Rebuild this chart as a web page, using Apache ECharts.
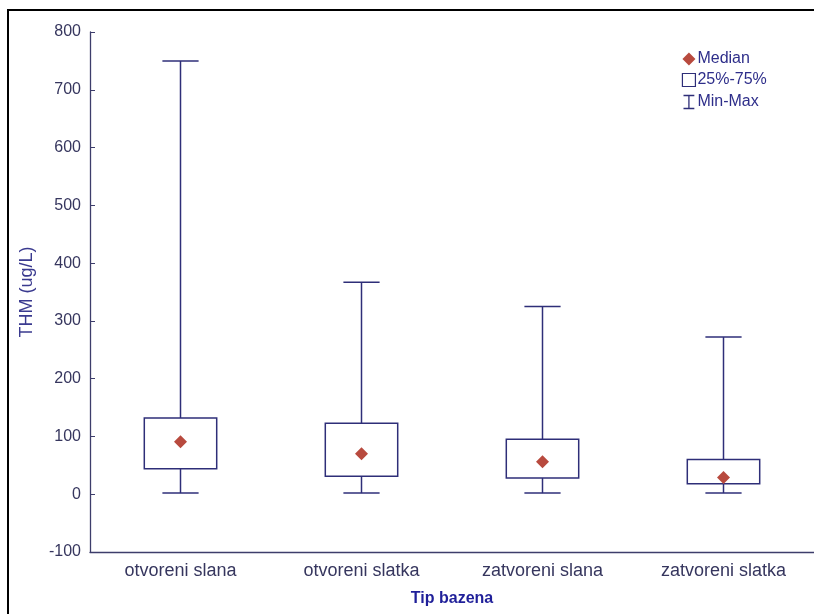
<!DOCTYPE html>
<html><head><meta charset="utf-8">
<script src="https://cdn.jsdelivr.net/npm/echarts@6/dist/echarts.min.js"></script>
<style>html,body{margin:0;padding:0;background:#fff}#c{width:814px;height:614px}</style>
</head><body><div id="c"></div>
<script>
var categories = ['otvoreni slana', 'otvoreni slatka', 'zatvoreni slana', 'zatvoreni slatka'];
var minValues = [2, 2, 2, 2];
var q1Values = [44, 31, 28, 18];
var medianValues = [91, 70, 56, 29];
var q3Values = [132, 123, 95, 60];
var maxValues = [750, 367, 325, 272];
var yTicks = [-100, 0, 100, 200, 300, 400, 500, 600, 700, 800];

var lineColor = '#2e2e78';
var medColor = '#b84a3e';
var textColor = '#36365e';

var boxData = categories.map(function (c, i) { return [i, q1Values[i], q3Values[i]]; });
var whiskerData = categories.map(function (c, i) { return [i, minValues[i], q1Values[i], q3Values[i], maxValues[i]]; });

var chart = echarts.init(document.getElementById('c'), null, {renderer: 'canvas'});
chart.setOption({
  animation: false,
  backgroundColor: '#fff',
  graphic: [{
    type: 'rect', z: 100, silent: true,
    shape: {x: 8, y: 10, width: 900, height: 700},
    style: {fill: 'none', stroke: '#000', lineWidth: 2}
  }],
  grid: {left: 90, top: 32, width: 725, bottom: 62},
  legend: {
    orient: 'vertical', left: 676, top: 46, itemWidth: 13, itemHeight: 13, itemGap: 5,
    selectedMode: false,
    textStyle: {color: '#2e2e8a', fontFamily: 'Liberation Sans', fontSize: 16, padding: [0, 0, 0, -3]},
    data: [
      {name: 'Median', icon: 'diamond', itemStyle: {color: medColor}},
      {name: '25%-75%', icon: 'rect', itemStyle: {color: '#fff', borderColor: lineColor, borderWidth: 1.2}},
      {name: 'Min-Max', icon: 'path://M2,1 L12,1 M7,1 L7,13 M2,13 L12,13', itemStyle: {color: 'none', borderColor: lineColor, borderWidth: 1.3}}
    ]
  },
  xAxis: {
    type: 'category', data: categories,
    name: 'Tip bazena', nameLocation: 'middle', nameGap: 39,
    nameTextStyle: {color: '#1f1f99', fontWeight: 'bold', fontSize: 16, fontFamily: 'Liberation Sans'},
    axisLine: {onZero: false, lineStyle: {color: '#3d3d6b', width: 1.3}},
    axisTick: {inside: true, alignWithLabel: true, length: 4, lineStyle: {color: '#3d3d6b'}},
    axisLabel: {color: textColor, fontSize: 18, fontFamily: 'Liberation Sans', margin: 10},
    splitLine: {show: false}
  },
  yAxis: {
    type: 'value', min: -100, max: 800, interval: 100,
    name: 'THM (ug/L)', nameLocation: 'middle', nameGap: 54,
    nameTextStyle: {color: '#3a3a8f', fontSize: 18, fontFamily: 'Liberation Sans'},
    axisLine: {show: true, onZero: false, lineStyle: {color: '#3d3d6b', width: 1.3}},
    axisTick: {show: true, inside: true, length: 5, lineStyle: {color: '#3d3d6b'}},
    axisLabel: {color: textColor, fontSize: 16, fontFamily: 'Liberation Sans', margin: 9,
      formatter: function (v) { return yTicks.indexOf(v) >= 0 ? String(v) : ''; }},
    splitLine: {show: false}
  },
  series: [
    {
      name: 'Min-Max', type: 'custom', data: whiskerData,
      itemStyle: {color: lineColor, borderColor: lineColor},
      encode: {x: 0, y: [1, 2, 3, 4]},
      renderItem: function (params, api) {
        var x = api.value(0);
        var band = api.size([1, 0])[0];
        var capHalf = band * 0.1;
        var pMin = api.coord([x, api.value(1)]);
        var pQ1 = api.coord([x, api.value(2)]);
        var pQ3 = api.coord([x, api.value(3)]);
        var pMax = api.coord([x, api.value(4)]);
        var st = {stroke: lineColor, lineWidth: 1.5, fill: null};
        return {type: 'group', children: [
          {type: 'line', shape: {x1: pMax[0], y1: pMax[1], x2: pQ3[0], y2: pQ3[1]}, style: st},
          {type: 'line', shape: {x1: pQ1[0], y1: pQ1[1], x2: pMin[0], y2: pMin[1]}, style: st},
          {type: 'line', shape: {x1: pMax[0] - capHalf, y1: pMax[1], x2: pMax[0] + capHalf, y2: pMax[1]}, style: st},
          {type: 'line', shape: {x1: pMin[0] - capHalf, y1: pMin[1], x2: pMin[0] + capHalf, y2: pMin[1]}, style: st}
        ]};
      }
    },
    {
      name: '25%-75%', type: 'custom', data: boxData,
      itemStyle: {color: '#fff', borderColor: lineColor},
      encode: {x: 0, y: [1, 2]},
      renderItem: function (params, api) {
        var x = api.value(0);
        var band = api.size([1, 0])[0];
        var half = band * 0.2;
        var pLo = api.coord([x, api.value(1)]);
        var pHi = api.coord([x, api.value(2)]);
        return {type: 'rect', shape: {x: pLo[0] - half, y: pHi[1], width: half * 2, height: pLo[1] - pHi[1]},
          style: {fill: '#fff', stroke: lineColor, lineWidth: 1.5}};
      }
    },
    {
      name: 'Median', type: 'scatter', data: medianValues, symbol: 'diamond', symbolSize: [13, 13],
      itemStyle: {color: medColor, opacity: 1}, z: 5
    }
  ]
});
</script></body></html>
